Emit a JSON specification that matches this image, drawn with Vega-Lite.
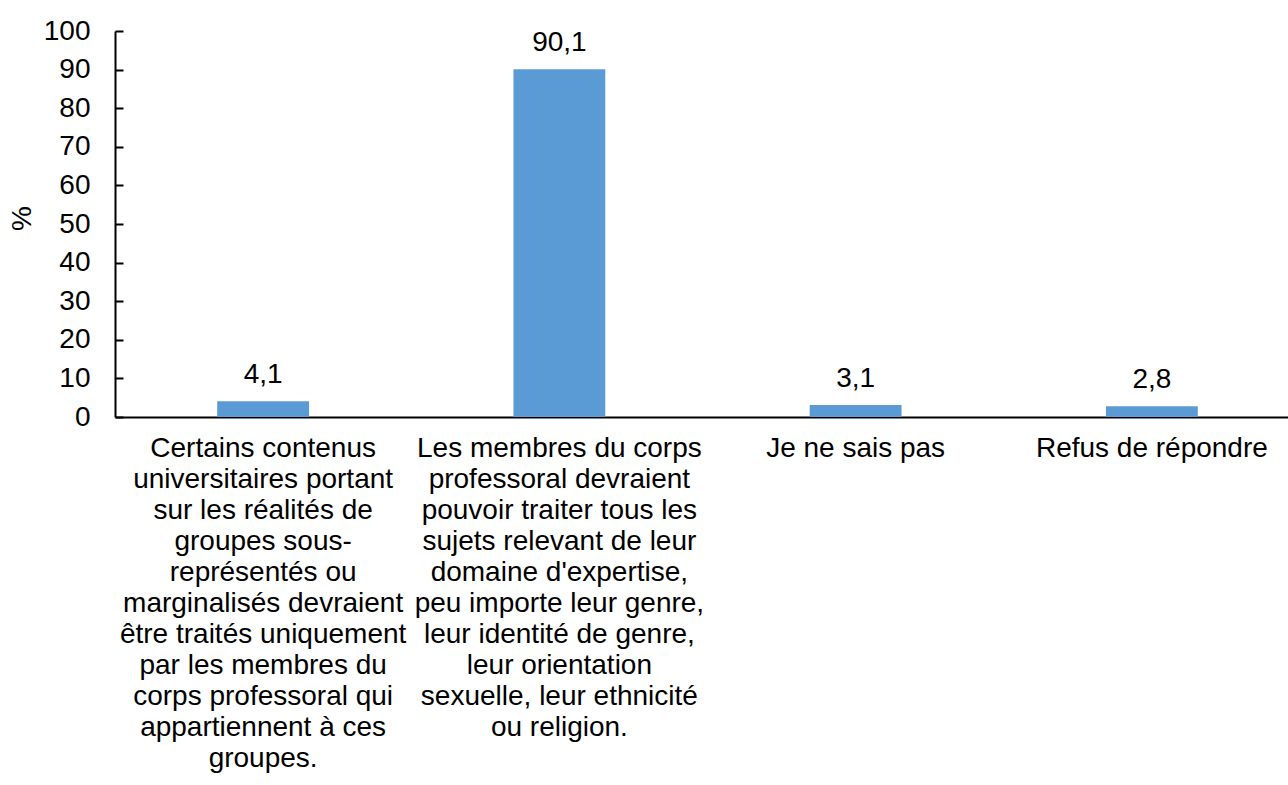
{
  "$schema": "https://vega.github.io/schema/vega-lite/v6.json",
  "width": 1185,
  "height": 386,
  "autosize": {"type": "none"},
  "padding": {"left": 115, "top": 31, "right": 0, "bottom": 368},
  "background": "white",
  "config": {
    "font": "Liberation Sans",
    "view": {"stroke": null},
    "locale": {
      "number": {"decimal": ",", "thousands": " ", "grouping": [3], "currency": ["", " €"]}
    },
    "axis": {
      "labelFont": "Liberation Sans",
      "titleFont": "Liberation Sans",
      "labelFontSize": 28,
      "titleFontSize": 28,
      "labelColor": "#000000",
      "titleColor": "#000000",
      "domainColor": "#000000",
      "tickColor": "#000000",
      "domainWidth": 2,
      "tickWidth": 2,
      "grid": false
    }
  },
  "data": {
    "values": [
      {"reponse": "Certains contenus|universitaires portant|sur les réalités de|groupes sous-|représentés ou|marginalisés devraient|être traités uniquement|par les membres du|corps professoral qui|appartiennent à ces|groupes.", "pct": 4.1},
      {"reponse": "Les membres du corps|professoral devraient|pouvoir traiter tous les|sujets relevant de leur|domaine d'expertise,|peu importe leur genre,|leur identité de genre,|leur orientation|sexuelle, leur ethnicité|ou religion.", "pct": 90.1},
      {"reponse": "Je ne sais pas", "pct": 3.1},
      {"reponse": "Refus de répondre", "pct": 2.8}
    ]
  },
  "encoding": {
    "x": {
      "field": "reponse",
      "type": "nominal",
      "sort": null,
      "scale": {"paddingInner": 0.69, "paddingOuter": 0.345},
      "axis": {
        "title": null,
        "ticks": false,
        "labelAngle": 0,
        "labelAlign": "center",
        "labelBaseline": "top",
        "labelPadding": 17,
        "labelLineHeight": 31,
        "labelLimit": 0,
        "labelExpr": "split(datum.label, '|')"
      }
    },
    "y": {
      "field": "pct",
      "type": "quantitative",
      "scale": {"domain": [0, 100], "nice": false},
      "axis": {
        "title": "%",
        "titleAngle": -90,
        "titleX": -93,
        "titleY": 187,
        "titleAlign": "center",
        "titleBaseline": "middle",
        "titleFontWeight": "normal",
        "values": [0, 10, 20, 30, 40, 50, 60, 70, 80, 90, 100],
        "tickSize": -8,
        "labelPadding": 33
      }
    }
  },
  "layer": [
    {"mark": {"type": "bar", "color": "#5B9BD5"}},
    {
      "mark": {
        "type": "text",
        "fontSize": 28,
        "font": "Liberation Sans",
        "color": "#000000",
        "baseline": "alphabetic",
        "dy": -18
      },
      "encoding": {
        "text": {"field": "pct", "type": "quantitative", "format": ".1f"}
      }
    }
  ]
}
